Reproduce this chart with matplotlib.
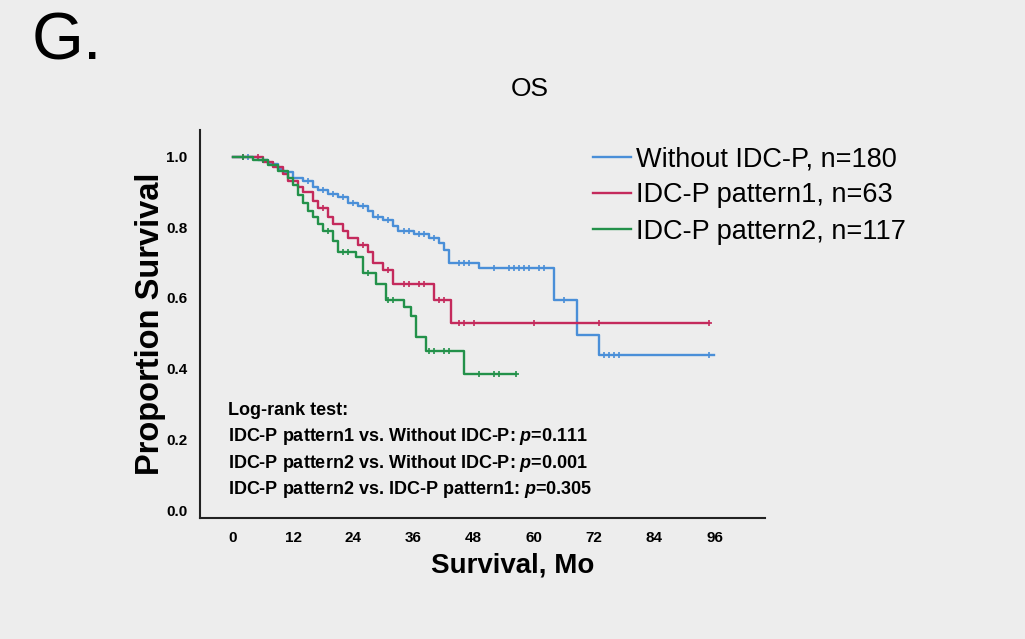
import numpy as np
import matplotlib.pyplot as plt

plt.rcParams['font.family'] = ['Liberation Sans', 'DejaVu Sans']
plt.rcParams['mathtext.fontset'] = 'custom'
plt.rcParams['mathtext.it'] = 'Liberation Sans:italic:bold'

# Kaplan-Meier step points (months, survival)
blue_t = [0, 5, 7, 9, 10, 12, 14, 16, 17, 19, 21, 23, 25, 27, 28, 30, 32, 33, 36, 39, 41, 42, 43, 49, 64, 68.5, 73]
blue_s = [1.0, 0.99, 0.98, 0.965, 0.955, 0.94, 0.93, 0.915, 0.905, 0.895, 0.885, 0.87, 0.86, 0.845,
          0.83, 0.82, 0.805, 0.79, 0.78, 0.77, 0.755, 0.735, 0.70, 0.685, 0.595, 0.495, 0.44]
blue_end = 96
blue_cens = [3, 8, 15, 18, 20, 22, 24, 26, 29, 31, 34, 35, 37, 38, 40, 45, 46, 47, 52, 55, 56, 57,
             58, 59, 61, 62, 66, 74, 75, 76, 77, 95]

red_t = [0, 6, 8, 10, 11, 13, 14, 16, 17, 19, 20, 22, 23, 25, 27, 28, 30, 32, 40, 43.5]
red_s = [1.0, 0.985, 0.97, 0.95, 0.93, 0.915, 0.90, 0.875, 0.855, 0.83, 0.81, 0.79, 0.77, 0.75,
         0.73, 0.70, 0.68, 0.64, 0.595, 0.53]
red_end = 95
red_cens = [2, 5, 18, 26, 31, 34, 35, 37, 38, 41, 42, 45, 46, 48, 60, 73, 95]

green_t = [0, 4, 7, 9, 11, 12, 13, 14, 15, 16, 17, 18, 20, 21, 24.5, 26, 28.5, 30.5, 34, 35.5, 36.5, 38.5, 46]
green_s = [1.0, 0.99, 0.975, 0.96, 0.94, 0.92, 0.89, 0.87, 0.845, 0.83, 0.81, 0.79, 0.76, 0.73,
           0.715, 0.67, 0.64, 0.595, 0.575, 0.55, 0.49, 0.45, 0.385]
green_end = 56.5
green_cens = [2, 6, 19, 22, 23, 27, 31, 32, 39, 40, 42, 43, 49, 52, 53, 56.5]

labels = ['Without IDC-P, n=180', 'IDC-P pattern1, n=63', 'IDC-P pattern2, n=117']
colors = ['#4a8fd8', '#c42a5c', '#23914a']

tests = ['Log-rank test:',
         'IDC-P pattern1 vs. Without IDC-P: $p$=0.111',
         'IDC-P pattern2 vs. Without IDC-P: $p$=0.001',
         'IDC-P pattern2 vs. IDC-P pattern1: $p$=0.305']

xticks = [0, 12, 24, 36, 48, 60, 72, 84, 96]
yticks = [0.0, 0.2, 0.4, 0.6, 0.8, 1.0]

fig = plt.figure(figsize=(10.25, 6.39), dpi=100, facecolor='#ededed')
ax = fig.add_axes([0.195, 0.189, 0.551, 0.608])
ax.set_facecolor('#ededed')

groups = [(blue_t, blue_s, blue_end, blue_cens),
          (red_t, red_s, red_end, red_cens),
          (green_t, green_s, green_end, green_cens)]
for (t, s, end, cens), lab, c in zip(groups, labels, colors):
    tt = np.array(t + [end])
    ss = np.array(s + [s[-1]])
    ax.step(tt, ss, where='post', color=c, lw=1.7, label=lab)
    idx = np.searchsorted(np.array(t), cens, side='right') - 1
    ax.plot(cens, np.array(s)[idx], '+', color=c, ms=5, mew=1.2)

ax.set_xlim(-6.6, 106)
ax.set_ylim(-0.023, 1.076)
ax.set_xticks(xticks)
ax.set_yticks(yticks)
ax.set_xticklabels([str(v) for v in xticks], fontsize=11, fontweight='bold')
ax.set_yticklabels([f'{v:.1f}' for v in yticks], fontsize=11, fontweight='bold')
ax.tick_params(length=0, pad=9)
for side in ['top', 'right']:
    ax.spines[side].set_visible(False)
for side in ['left', 'bottom']:
    ax.spines[side].set_linewidth(1.5)
    ax.spines[side].set_color('#222222')

ax.set_xlabel('Survival, Mo', fontsize=20, fontweight='bold')
ax.xaxis.set_label_coords(0.554, -0.088)
ax.set_ylabel('Proportion Survival', fontsize=23.5, fontweight='bold', labelpad=0)

ypos = [0.283, 0.207, 0.133, 0.057]
for txt, y in zip(tests, ypos):
    ax.text(-1, y, txt, fontsize=13, fontweight='bold', va='center', ha='left')

ax.legend(loc='upper left', bbox_to_anchor=(593 / 1025, 1 - 146 / 639), bbox_transform=fig.transFigure,
          frameon=False, fontsize=19.5, handlelength=1.4, handletextpad=0.2, labelspacing=0.38,
          borderpad=0, borderaxespad=0)

fig.text(530 / 1025, 1 - 89 / 639, 'OS', fontsize=19, ha='center', va='center')
fig.text(32 / 1025, 1 - 42 / 639, 'G.', fontsize=48, ha='left', va='center')

fig.savefig('out.png', dpi=100, facecolor=fig.get_facecolor())
